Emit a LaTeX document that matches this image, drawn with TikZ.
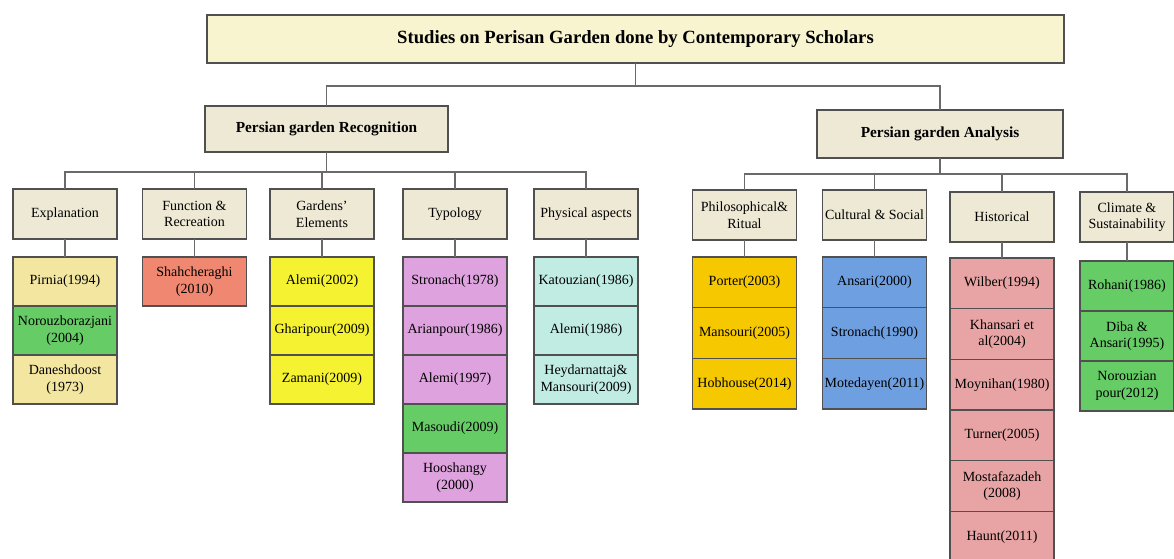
\documentclass[tikz,border=0pt]{standalone}
\usepackage{fontspec}
\setmainfont{Liberation Serif}
\usetikzlibrary{positioning}

\definecolor{titlefill}{RGB}{248,244,208}
\definecolor{headfill}{RGB}{238,233,212}
\definecolor{paleyellow}{RGB}{243,230,160}
\definecolor{leafgreen}{RGB}{102,204,102}
\definecolor{salmon}{RGB}{240,135,112}
\definecolor{lemon}{RGB}{245,242,50}
\definecolor{plumpink}{RGB}{222,162,222}
\definecolor{aqua}{RGB}{192,236,228}
\definecolor{goldfill}{RGB}{245,200,0}
\definecolor{skyblue}{RGB}{110,160,225}
\definecolor{rose}{RGB}{232,164,164}
\definecolor{edgegray}{RGB}{80,80,80}

\tikzset{
  box/.style={draw=edgegray, line width=0.8pt, outer sep=0pt, inner ysep=2pt, inner xsep=1pt,
    align=center, font=\fontsize{10.5}{12.5}\selectfont},
  titlebox/.style={box, fill=titlefill, minimum width=642.75pt, minimum height=36pt,
    font=\fontsize{14}{17}\selectfont\bfseries},
  groupbox/.style={box, fill=headfill, font=\fontsize{11.5}{14}\selectfont\bfseries},
  headbox/.style={box, fill=headfill, minimum width=78pt, minimum height=37.5pt},
  kid/.style={box, fill=#1, minimum width=78pt, minimum height=36.75pt},
  link/.style={draw=edgegray!85, line width=0.8pt},
}

\begin{document}
\begin{tikzpicture}[x=0.75pt, y=-0.75pt]
  \useasboundingbox (0,0) rectangle (1174,559);

  % top levels
  \node[titlebox] (title) at (635.5,39) {Studies on Perisan Garden done by Contemporary Scholars};
  \node[groupbox, minimum width=182.25pt, minimum height=34.5pt] (recog) at (326.5,129) {Persian garden Recognition};
  \node[groupbox, minimum width=184.5pt, minimum height=36pt] (anal) at (940,134) {Persian garden Analysis};

  % recognition headings
  \node[headbox] (explan) at (65,214) {Explanation};
  \node[headbox] (func) at (194.5,214) {Function \&\\Recreation};
  \node[headbox] (elem) at (322,214) {Gardens'\\Elements};
  \node[headbox] (typo) at (455,214) {Typology};
  \node[headbox] (phys) at (586,214) {Physical aspects};

  % analysis headings
  \node[headbox] (philo) at (744.5,215) {Philosophical\&\\Ritual};
  \node[headbox] (cult) at (874.5,215) {Cultural \& Social};
  \node[headbox] (hist) at (1002,217) {Historical};
  \node[headbox, minimum width=70.5pt] (clim) at (1127,217) {Climate \&\\Sustainability};

  % explanation
  \node[kid=paleyellow, anchor=north] (pirnia) at (65,257) {Pirnia(1994)};
  \node[kid=leafgreen, below=0pt of pirnia] (norouzb) {Norouzborazjani\\(2004)};
  \node[kid=paleyellow, below=0pt of norouzb] (danesh) {Daneshdoost\\(1973)};

  % function
  \node[kid=salmon, anchor=north] (shah) at (194.5,257) {Shahcheraghi\\(2010)};

  % elements
  \node[kid=lemon, anchor=north] (alemiA) at (322,257) {Alemi(2002)};
  \node[kid=lemon, below=0pt of alemiA] (ghari) {Gharipour(2009)};
  \node[kid=lemon, below=0pt of ghari] (zamani) {Zamani(2009)};

  % typology
  \node[kid=plumpink, anchor=north] (stronachA) at (455,257) {Stronach(1978)};
  \node[kid=plumpink, below=0pt of stronachA] (arian) {Arianpour(1986)};
  \node[kid=plumpink, below=0pt of arian] (alemiB) {Alemi(1997)};
  \node[kid=leafgreen, below=0pt of alemiB] (masoudi) {Masoudi(2009)};
  \node[kid=plumpink, below=0pt of masoudi] (hoosh) {Hooshangy\\(2000)};

  % physical aspects
  \node[kid=aqua, anchor=north] (katou) at (586,257) {Katouzian(1986)};
  \node[kid=aqua, below=0pt of katou] (alemiC) {Alemi(1986)};
  \node[kid=aqua, below=0pt of alemiC] (heydar) {Heydarnattaj\&\\Mansouri(2009)};

  % philosophical
  \node[kid=goldfill, minimum height=38pt, anchor=north] (porter) at (744.5,257) {Porter(2003)};
  \node[kid=goldfill, minimum height=38pt, below=0pt of porter] (mansouri) {Mansouri(2005)};
  \node[kid=goldfill, minimum height=38pt, below=0pt of mansouri] (hobhouse) {Hobhouse(2014)};

  % cultural
  \node[kid=skyblue, minimum height=38pt, anchor=north] (ansari) at (874.5,257) {Ansari(2000)};
  \node[kid=skyblue, minimum height=38pt, below=0pt of ansari] (stronachB) {Stronach(1990)};
  \node[kid=skyblue, minimum height=38pt, below=0pt of stronachB] (motedayen) {Motedayen(2011)};

  % historical
  \node[kid=rose, minimum height=38pt, anchor=north] (wilber) at (1002,258) {Wilber(1994)};
  \node[kid=rose, minimum height=38pt, below=0pt of wilber] (khansari) {Khansari et\\al(2004)};
  \node[kid=rose, minimum height=38pt, below=0pt of khansari] (moynihan) {Moynihan(1980)};
  \node[kid=rose, minimum height=38pt, below=0pt of moynihan] (turner) {Turner(2005)};
  \node[kid=rose, minimum height=38pt, below=0pt of turner] (mostafa) {Mostafazadeh\\(2008)};
  \node[kid=rose, minimum height=38pt, below=0pt of mostafa] (haunt) {Haunt(2011)};

  % climate
  \node[kid=leafgreen, minimum width=70.5pt, minimum height=37.5pt, anchor=north] (rohani) at (1127,261) {Rohani(1986)};
  \node[kid=leafgreen, minimum width=70.5pt, minimum height=37.5pt, below=0pt of rohani] (diba) {Diba \&\\Ansari(1995)};
  \node[kid=leafgreen, minimum width=70.5pt, minimum height=37.5pt, below=0pt of diba] (norouzp) {Norouzian\\pour(2012)};

  % tree lines
  \coordinate (split) at (635.5,86);
  \coordinate (splitR) at (326.5,172);
  \coordinate (splitA) at (940,174);
  \draw[link] (title.south) -- (split);
  \draw[link] (recog.north) |- (split) -| (anal.north);
  \draw[link] (recog.south) -- (splitR);
  \draw[link] (explan.north) |- (splitR) -| (phys.north);
  \draw[link] (func.north) -- (func.north |- splitR);
  \draw[link] (elem.north) -- (elem.north |- splitR);
  \draw[link] (typo.north) -- (typo.north |- splitR);
  \draw[link] (anal.south) -- (splitA);
  \draw[link] (philo.north) |- (splitA) -| (clim.north);
  \draw[link] (cult.north) -- (cult.north |- splitA);
  \draw[link] (hist.north) -- (hist.north |- splitA);

  \draw[link] (explan.south) -- (pirnia.north);
  \draw[link] (func.south) -- (shah.north);
  \draw[link] (elem.south) -- (alemiA.north);
  \draw[link] (typo.south) -- (stronachA.north);
  \draw[link] (phys.south) -- (katou.north);
  \draw[link] (philo.south) -- (porter.north);
  \draw[link] (cult.south) -- (ansari.north);
  \draw[link] (hist.south) -- (wilber.north);
  \draw[link] (clim.south) -- (rohani.north);
\end{tikzpicture}
\end{document}
